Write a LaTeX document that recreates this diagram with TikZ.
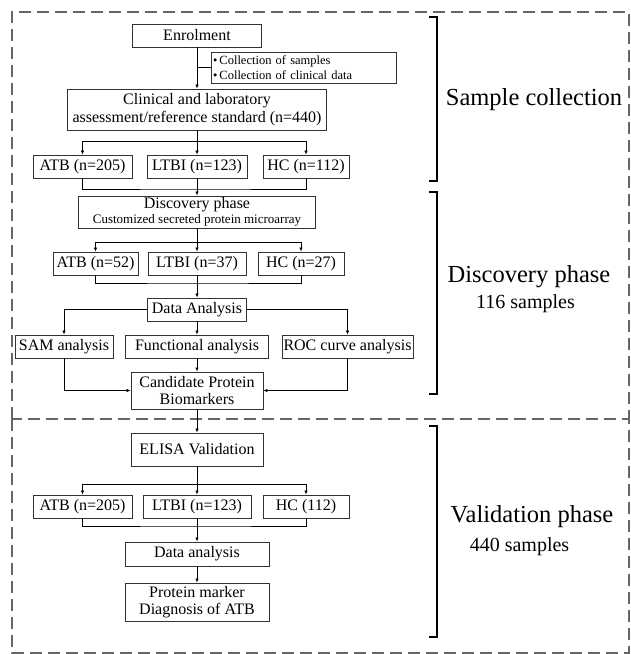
\documentclass[tikz,border=0pt]{standalone}
\usepackage{fontspec}
\setmainfont{Liberation Serif}
\usetikzlibrary{arrows.meta}
\begin{document}
\begin{tikzpicture}[x=1pt,y=-1pt,
  box/.style={draw=black!80,line width=0.9pt,rectangle,inner sep=0pt,align=center,font=\fontsize{16}{17.5}\selectfont},
  conn/.style={draw=black,line width=0.7pt},
  arr/.style={conn,-{Latex[length=4pt,width=3.5pt]}},
  frame/.style={draw=black!60,line width=1.1pt,dash pattern=on 12pt off 6pt},
  brk/.style={draw=black,line width=1.1pt},
  big/.style={font=\fontsize{24.5}{28}\selectfont,inner sep=0pt},
  sub/.style={font=\fontsize{20}{23}\selectfont,inner sep=0pt}]
\useasboundingbox (0,0) rectangle (630,654);
% frames
\draw[frame] (12,419) -- (12,12) -- (629,12) -- (629,419);
\draw[frame] (12,419) rectangle (629,653);
% brackets
\draw[brk] (429,17) -- (437,17) -- (437,181) -- (429,181);
\draw[brk] (429,192) -- (437,192) -- (437,394) -- (429,394);
\draw[brk,line width=2pt] (429,426) -- (437,426) -- (437,637) -- (429,637);
\node[big] (lab1) at (534,100) {Sample collection};
\node[big] (lab2) at (529,277) {Discovery phase};
\node[sub] (lab2b) at (525.5,304) {116 samples};
\node[big] (lab3) at (532,517) {Validation phase};
\node[sub] (lab3b) at (519.5,547) {440 samples};
% nodes
\node[box,minimum width=129,minimum height=23] (enrol) at (197,35.5) {Enrolment};
\node[box,minimum height=31,align=left,text width=181,inner xsep=2,font=\fontsize{12.5}{14.5}\selectfont] (bul) at (303.5,67.5) {\textbullet\,Collection of samples\\\textbullet\,Collection of clinical data};
\node[box,minimum width=259,minimum height=41] (clin) at (197,109.5) {Clinical and laboratory\\assessment/reference standard (n=440)};
\node[box,minimum width=99,minimum height=23] (atb1) at (82.5,166.5) {ATB (n=205)};
\node[box,minimum width=100,minimum height=23] (ltbi1) at (197,166.5) {LTBI (n=123)};
\node[box,minimum width=86,minimum height=23] (hc1) at (306,166.5) {HC (n=112)};
\node[box,minimum width=237,minimum height=32,font=\fontsize{16}{15}\selectfont] (disc) at (197,212) {Discovery phase\\{\fontsize{13}{14}\selectfont Customized secreted protein microarray}};
\node[box,minimum width=85,minimum height=23] (atb2) at (95.5,263.5) {ATB (n=52)};
\node[box,minimum width=98,minimum height=23] (ltbi2) at (197,263.5) {LTBI (n=37)};
\node[box,minimum width=86,minimum height=23] (hc2) at (301,263.5) {HC (n=27)};
\node[box,minimum width=99,minimum height=23] (da) at (197,309.5) {Data Analysis};
\node[box,minimum width=98,minimum height=23] (sam) at (64,346.5) {SAM analysis};
\node[box,minimum width=143,minimum height=23] (func) at (197,346.5) {Functional analysis};
\node[box,minimum width=131,minimum height=23] (roc) at (347.5,346.5) {ROC curve analysis};
\node[box,minimum width=132,minimum height=37] (cand) at (197,390.5) {Candidate Protein\\Biomarkers};
\node[box,minimum width=132,minimum height=33] (elisa) at (197,449.5) {ELISA Validation};
\node[box,minimum width=99,minimum height=23] (atb3) at (82.5,506.5) {ATB (n=205)};
\node[box,minimum width=108,minimum height=23] (ltbi3) at (197,506.5) {LTBI (n=123)};
\node[box,minimum width=86,minimum height=23] (hc3) at (306,506.5) {HC (112)};
\node[box,minimum width=144,minimum height=24] (da2) at (197,554) {Data analysis};
\node[box,minimum width=144,minimum height=38] (pm) at (197,602) {Protein marker\\Diagnosis of ATB};
% coordinates
\coordinate (s1) at (197,141);
\coordinate (m1) at (197,189);
\coordinate (s2) at (197,242);
\coordinate (m2) at (197,283);
\coordinate (s3) at (197,484);
\coordinate (m3) at (197,526);
% connectors
\draw[arr] (enrol.south) -- (clin.north);
\draw[conn] (enrol.south |- bul.west) -- (bul.west);
\draw[conn] (clin.south) -- (s1);
\draw[arr] (s1) -| (atb1.north);
\draw[arr] (s1) -| (hc1.north);
\draw[arr] (s1) -- (ltbi1.north);
\draw[conn] (atb1.south) |- (m1) -| (hc1.south);
\draw[arr] (ltbi1.south) -- (disc.north);
\draw[conn] (disc.south) -- (s2);
\draw[arr] (s2) -| (atb2.north);
\draw[arr] (s2) -| (hc2.north);
\draw[arr] (s2) -- (ltbi2.north);
\draw[conn] (atb2.south) |- (m2) -| (hc2.south);
\draw[arr] (ltbi2.south) -- (da.north);
\draw[arr] (da.west) -| (sam.north);
\draw[arr] (da.east) -| (roc.north);
\draw[arr] (da.south) -- (func.north);
\draw[arr] (sam.south) |- (cand.west);
\draw[arr] (roc.south) |- (cand.east);
\draw[arr] (func.south) -- (cand.north);
\draw[arr] (cand.south) -- (elisa.north);
\draw[conn] (elisa.south) -- (s3);
\draw[arr] (s3) -| (atb3.north);
\draw[arr] (s3) -| (hc3.north);
\draw[arr] (s3) -- (ltbi3.north);
\draw[conn] (atb3.south) |- (m3) -| (hc3.south);
\draw[arr] (ltbi3.south) -- (da2.north);
\draw[arr] (da2.south) -- (pm.north);
\end{tikzpicture}
\end{document}
